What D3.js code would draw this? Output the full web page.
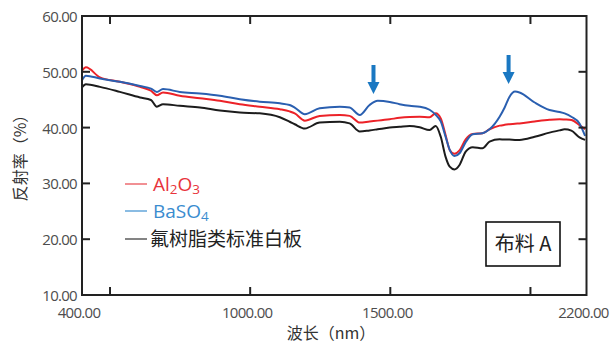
<!DOCTYPE html>
<html>
<head>
<meta charset="utf-8">
<script src="https://cdn.jsdelivr.net/npm/d3@7"></script>
<style>
  body { margin: 0; background: #fff; }
  svg { display: block; }
</style>
</head>
<body>
<div id="chart"></div>
<script>
// wavelengths (nm) shared by all three curves
const wavelengths = [400, 414, 464, 535, 607, 646, 667, 689, 749, 821, 892, 963, 1034, 1106, 1141, 1159, 1195, 1248, 1320, 1355, 1391, 1426, 1455, 1498, 1533, 1569, 1605, 1640, 1662, 1680, 1697, 1712, 1729, 1747, 1769, 1794, 1829, 1854, 1890, 1908, 1925, 1945, 1961, 2015, 2068, 2104, 2122, 2146, 2175, 2195];

const al2o3 = [50.2, 50.8, 49.0, 48.2, 47.3, 46.6, 45.8, 46.3, 45.7, 45.25, 44.8, 44.2, 43.75, 43.3, 42.9, 42.55, 41.25, 42.1, 42.25, 42.1, 40.9, 41.1, 41.25, 41.5, 41.75, 41.9, 41.95, 41.85, 42.55, 41.65, 38.7, 36.0, 35.3, 35.9, 37.9, 38.85, 39.0, 39.7, 40.35, 40.5, 40.6, 40.7, 40.75, 41.1, 41.4, 41.5, 41.45, 41.35, 40.45, 39.7];

const baso4 = [48.5, 49.3, 48.8, 48.2, 47.45, 47.0, 46.4, 46.9, 46.4, 46.1, 45.7, 45.1, 44.65, 44.35, 44.05, 43.6, 42.4, 43.45, 43.75, 43.6, 42.25, 44.05, 44.8, 44.6, 44.2, 43.9, 43.75, 43.2, 42.3, 41.1, 38.4, 36.0, 34.9, 35.4, 37.4, 38.8, 39.0, 39.7, 41.95, 43.6, 45.5, 46.45, 46.3, 44.5, 43.15, 42.8, 42.55, 41.95, 40.75, 38.5];

const fluororesin = [47.2, 47.75, 47.3, 46.4, 45.4, 44.95, 43.75, 44.2, 43.9, 43.6, 43.05, 42.7, 42.55, 41.85, 41.05, 40.6, 39.85, 40.9, 41.05, 40.75, 39.3, 39.5, 39.7, 40.0, 40.15, 40.3, 40.05, 39.55, 40.3, 38.35, 34.8, 33.0, 32.5, 33.3, 35.7, 36.5, 36.3, 37.5, 37.9, 37.85, 37.85, 37.8, 37.8, 38.35, 39.1, 39.5, 39.7, 39.45, 38.25, 37.8];

const xTickLabels = [400, 1000, 1500, 2200];
const xTickMarks = [500, 1000, 1500, 2000];
const yTicks = [10, 20, 30, 40, 50, 60];
const yTickMarks = [20, 30, 40, 50];

// arrows: wavelength, tail value, tip value
const arrows = [
  { wl: 1440, from: 51.2, to: 46.0 },
  { wl: 1922, from: 53.0, to: 47.8 }
];

const width = 611, height = 346;
const margin = { left: 82, right: 24.5, top: 16, bottom: 51 };

const svg = d3.select('#chart').append('svg')
  .attr('width', width)
  .attr('height', height);

const x = d3.scaleLinear().domain([400, 2200]).range([margin.left, width - margin.right]);
const y = d3.scaleLinear().domain([10, 60]).range([height - margin.bottom, margin.top]);

const series = [
  { values: fluororesin, color: '#1c1c1c' },
  { values: al2o3, color: '#ec2228' },
  { values: baso4, color: '#2a5fb0' }
];

const line = d3.line()
  .x(d => x(d[0]))
  .y(d => y(d[1]))
  .curve(d3.curveMonotoneX);

series.forEach(s => {
  svg.append('path')
    .datum(wavelengths.map((w, i) => [w, s.values[i]]))
    .attr('fill', 'none')
    .attr('stroke', s.color)
    .attr('stroke-width', 2)
    .attr('stroke-linejoin', 'round')
    .attr('d', line);
});

// frame
const x0 = x.range()[0], x1 = x.range()[1];
const y0 = y.range()[0], y1 = y.range()[1];
svg.append('rect')
  .attr('x', x0).attr('y', y1)
  .attr('width', x1 - x0).attr('height', y0 - y1)
  .attr('fill', 'none')
  .attr('stroke', '#222')
  .attr('stroke-width', 2);

// inward ticks
const tickLen = 8;
const ticks = svg.append('g').attr('stroke', '#222').attr('stroke-width', 2);
xTickMarks.forEach(v => {
  ticks.append('line').attr('x1', x(v)).attr('x2', x(v)).attr('y1', y0).attr('y2', y0 - tickLen);
  ticks.append('line').attr('x1', x(v)).attr('x2', x(v)).attr('y1', y1).attr('y2', y1 + tickLen);
});
yTickMarks.forEach(v => {
  ticks.append('line').attr('x1', x0).attr('x2', x0 + tickLen).attr('y1', y(v)).attr('y2', y(v));
  ticks.append('line').attr('x1', x1).attr('x2', x1 - tickLen).attr('y1', y(v)).attr('y2', y(v));
});

const labelFont = '"Open Sans", sans-serif';

svg.append('g').selectAll('text')
  .data(yTicks)
  .join('text')
  .attr('x', x0 - 5)
  .attr('y', d => y(d) + 6)
  .attr('text-anchor', 'end')
  .attr('font-family', labelFont)
  .attr('font-size', 15)
  .attr('letter-spacing', -0.7)
  .attr('fill', '#4d4d4d')
  .text(d => d.toFixed(2));

svg.append('g').selectAll('text')
  .data(xTickLabels)
  .join('text')
  .attr('x', d => x(d) - 3)
  .attr('y', y0 + 23)
  .attr('text-anchor', 'middle')
  .attr('font-family', labelFont)
  .attr('font-size', 15)
  .attr('letter-spacing', -0.7)
  .attr('fill', '#4d4d4d')
  .text(d => d.toFixed(2));

// axis titles
svg.append('text')
  .attr('x', 331)
  .attr('y', 339)
  .attr('text-anchor', 'middle')
  .attr('font-family', '"Noto Sans CJK SC", sans-serif')
  .attr('font-size', 16)
  .attr('fill', '#333')
  .text('波长（nm）');

svg.append('text')
  .attr('transform', 'translate(26,154) rotate(-90)')
  .attr('text-anchor', 'middle')
  .attr('font-family', '"Noto Sans CJK SC", sans-serif')
  .attr('font-size', 16)
  .attr('fill', '#333')
  .text('反射率（%）');

// legend
const legend = svg.append('g').attr('font-family', '"Open Sans", "Noto Sans CJK SC", sans-serif');
const legendItems = [
  { y: 184, line: '#e8474d', text: '#e8343b', parts: [['Al', 0], ['2', 1], ['O', 0], ['3', 1]] },
  { y: 211, line: '#3d8fd1', text: '#3a8ccf', parts: [['BaSO', 0], ['4', 1]] },
  { y: 239, line: '#333', text: '#222', parts: [['氟树脂类标准白板', 0]] }
];
legendItems.forEach(it => {
  legend.append('line')
    .attr('x1', 125).attr('x2', 147)
    .attr('y1', it.y).attr('y2', it.y)
    .attr('stroke', it.line)
    .attr('stroke-width', 1.2);
  const t = legend.append('text')
    .attr('x', it.parts[0][0].length > 4 ? 150 : 153)
    .attr('y', it.y + 7)
    .attr('font-size', 19)
    .attr('fill', it.text);
  let sub = false;
  it.parts.forEach(p => {
    const ts = t.append('tspan').text(p[0]);
    if (p[1] && !sub) { ts.attr('dy', 3).attr('font-size', 13.5); sub = true; }
    else if (!p[1] && sub) { ts.attr('dy', -3); sub = false; }
    else if (p[1]) ts.attr('font-size', 13.5);
  });
});

// sample label box
svg.append('rect')
  .attr('x', 486).attr('y', 222)
  .attr('width', 74).attr('height', 44)
  .attr('fill', '#fff')
  .attr('stroke', '#111')
  .attr('stroke-width', 1.6);
svg.append('text')
  .attr('x', 523).attr('y', 251)
  .attr('text-anchor', 'middle')
  .attr('font-family', '"Noto Sans CJK SC", sans-serif')
  .attr('font-size', 20)
  .attr('fill', '#222')
  .text('布料 A');

// arrows
const arrowG = svg.append('g').attr('fill', '#1a78c2').attr('stroke', 'none');
arrows.forEach(a => {
  const ax = x(a.wl), top = y(a.from), tip = y(a.to);
  const headH = 12, headW = 6, shaft = 2;
  arrowG.append('path')
    .attr('d', `M${ax - shaft},${top} L${ax + shaft},${top} L${ax + shaft},${tip - headH} L${ax + headW},${tip - headH} L${ax},${tip} L${ax - headW},${tip - headH} L${ax - shaft},${tip - headH} Z`);
});
</script>
</body>
</html>
